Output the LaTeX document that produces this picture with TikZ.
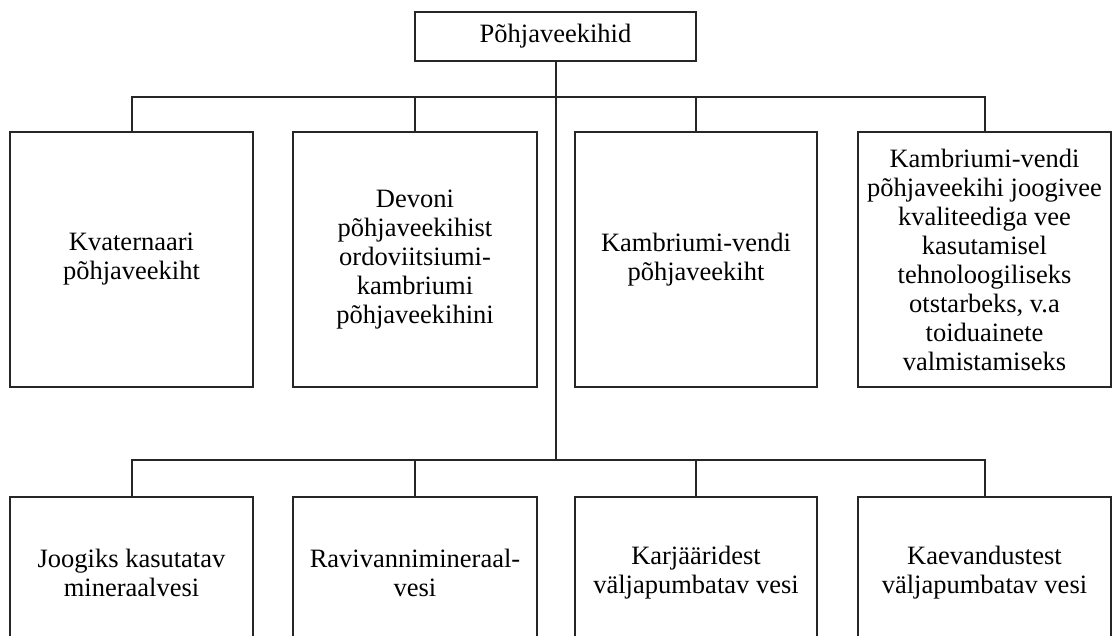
\documentclass[tikz,border=0pt]{standalone}
\usepackage{fontspec}
\setmainfont{Liberation Serif}
\begin{document}
\begin{tikzpicture}[x=1pt,y=-1pt,
  box/.style={draw=black!85, line width=2pt, align=center, inner sep=0pt,
    font=\fontsize{26.5}{29}\selectfont},
  conn/.style={draw=black!85, line width=2pt}]
\useasboundingbox (0,0) rectangle (1113,636);
\clip (0,0) rectangle (1113,636);
\node[box, minimum width=281pt, minimum height=49pt] (top) at (555.5,36.5) {Põhjaveekihid};
% row 1
\node[box, minimum width=243pt, minimum height=255pt] (r1a) at (131.5,259.5) {Kvaternaari\\põhjaveekiht};
\node[box, minimum width=244pt, minimum height=255pt] (r1b) at (415,259.5) {Devoni\\põhjaveekihist\\ordoviitsiumi-\\kambriumi\\põhjaveekihini};
\node[box, minimum width=242pt, minimum height=255pt] (r1c) at (696,259.5) {Kambriumi-vendi\\põhjaveekiht};
\node[box, minimum width=253pt, minimum height=255pt] (r1d) at (984.5,259.5) {Kambriumi-vendi\\põhjaveekihi joogivee\\kvaliteediga vee\\kasutamisel\\tehnoloogiliseks\\otstarbeks, v.a\\toiduainete\\valmistamiseks};
% row 2
\node[box, minimum width=243pt, minimum height=151pt] (r2a) at (131.5,572.5) {Joogiks kasutatav\\mineraalvesi};
\node[box, minimum width=244pt, minimum height=151pt] (r2b) at (415,572.5) {Ravivannimineraal-\\vesi};
\node[box, minimum width=242pt, minimum height=151pt] (r2c) at (696,572.5) {Karjääridest\\väljapumbatav vesi};
\node[box, minimum width=253pt, minimum height=151pt] (r2d) at (984.5,572.5) {Kaevandustest\\väljapumbatav vesi};
% connectors
\coordinate (j1) at (555.5,97);
\coordinate (j2) at (555.5,460);
\draw[conn] (top.south) -- (j2);
\draw[conn] (r1a.north) |- (j1) -| (r1d.north);
\draw[conn] (r1b.north) -- (r1b.north |- j1);
\draw[conn] (r1c.north) -- (r1c.north |- j1);
\draw[conn] (r2a.north) |- (j2) -| (r2d.north);
\draw[conn] (r2b.north) -- (r2b.north |- j2);
\draw[conn] (r2c.north) -- (r2c.north |- j2);
\end{tikzpicture}
\end{document}
